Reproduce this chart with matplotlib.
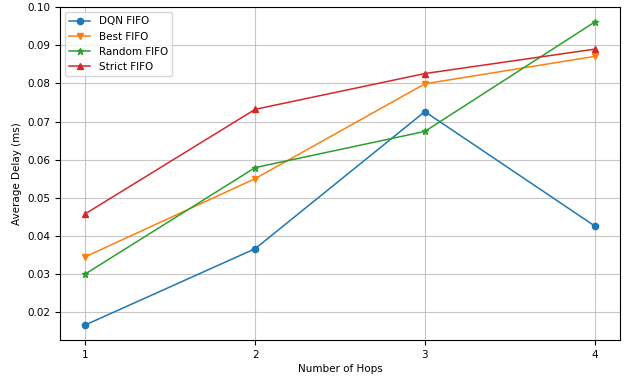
import matplotlib
matplotlib.use("Agg")
import matplotlib.pyplot as plt

# Données
hops = [1, 2, 3, 4]
dqn_fifo = [0.0166, 0.0366, 0.0726, 0.0426]
best_fifo = [0.0345, 0.0550, 0.0799, 0.0871]
random_fifo = [0.0300, 0.0579, 0.0674, 0.0961]
strict_fifo = [0.0458, 0.0732, 0.0826, 0.0890]

fig = plt.figure(figsize=(6.33, 3.78), dpi=100)
ax = fig.add_axes([60 / 633, 1 - 340 / 378, 560 / 633, 333 / 378])

ax.plot(hops, dqn_fifo, marker='o', markersize=4.5, linewidth=1.1, label='DQN FIFO')
ax.plot(hops, best_fifo, marker='v', markersize=4.5, linewidth=1.1, label='Best FIFO')
ax.plot(hops, random_fifo, marker='*', markersize=4.5, linewidth=1.1, label='Random FIFO')
ax.plot(hops, strict_fifo, marker='^', markersize=4.5, linewidth=1.1, label='Strict FIFO')

ax.set_xticks(hops)
ax.set_xlabel('Number of Hops', fontsize=7.5, labelpad=3)
ax.set_ylabel('Average Delay (ms)', fontsize=7.5)
ax.tick_params(labelsize=7.5)
ax.grid(True, alpha=0.7)
ax.legend(loc='upper left', fontsize=7.5)

fig.savefig('out.png', dpi=100)
